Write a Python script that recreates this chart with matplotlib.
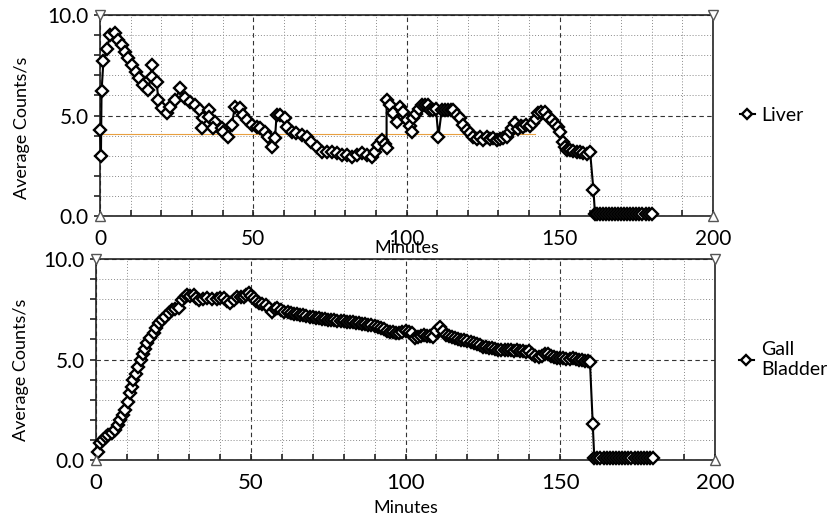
import matplotlib
matplotlib.use("Agg")
import matplotlib.pyplot as plt
from matplotlib.ticker import MultipleLocator

plt.rcParams['font.family'] = ['Lato', 'DejaVu Sans']

# Liver time-activity curve (minutes, counts/s)
liver_t = [0, 0.3, 0.5, 1.1, 2.2, 3.3, 4.9, 6.0, 7.1, 8.2, 9.2, 10.5, 11.6, 12.8,
           14.1, 15.8, 17.1, 17.1, 18.5, 19.0, 20.1, 21.7, 22.8, 24.5, 26.1, 27.7,
           29.4, 31.0, 32.6, 33.7, 33.2, 35.7, 35.5, 37.5, 36.9, 39.7, 40.0, 41.9,
           43.0, 44.0, 45.7, 46.8, 47.9, 49.5, 51.1, 52.2, 53.8, 54.9, 56.0, 57.1,
           57.6, 58.7, 60.4, 60.9, 62.5, 64.1, 65.8, 67.4, 69.0, 70.7, 72.3, 73.9,
           75.6, 77.2, 78.8, 80.5, 82.1, 83.7, 85.4, 87.0, 88.6, 89.7, 90.8, 91.9,
           93.0, 93.5, 93.5, 94.5, 95.7, 96.8, 97.9, 99.0, 100.0, 101.0, 101.7,
           102.2, 103.0, 104.0, 105.0, 106.0, 107.1, 107.8, 108.7, 109.6, 110.4,
           111.5, 112.6, 113.7, 114.5, 115.3, 116.4, 117.5, 118.5, 119.6, 120.7,
           121.8, 122.9, 124.0, 125.1, 126.2, 127.3, 128.3, 129.4, 130.5, 131.6,
           132.7, 133.8, 134.5, 135.4, 136.3, 137.2, 138.1, 139.0, 140.3, 141.4,
           142.2, 143.0, 144.0, 145.2, 146.3, 147.4, 148.5, 149.3, 150.1, 150.9,
           151.7, 152.5, 153.3, 154.4, 155.5, 156.6, 157.7, 158.8, 159.9, 161.0,
           161.5, 162, 163, 164, 165, 166, 167, 168, 169, 170, 171, 172, 173, 174,
           175, 176, 177, 178, 179, 180]
liver_v = [4.3, 3.0, 6.2, 7.7, 8.3, 9.0, 9.1, 8.76, 8.5, 8.17, 7.84, 7.51, 7.18, 6.85,
           6.52, 6.27, 7.51, 6.9, 6.68, 5.77, 5.36, 5.11, 5.44, 5.77, 6.35, 5.86,
           5.69, 5.52, 5.27, 4.86, 4.36, 5.27, 4.94, 4.69, 4.36, 4.36, 4.2, 3.95,
           4.53, 5.44, 5.36, 5.03, 4.78, 4.53, 4.44, 4.36, 4.2, 3.95, 3.45, 3.86,
           5.03, 5.03, 4.86, 4.44, 4.2, 4.11, 4.03, 3.95, 3.7, 3.45, 3.2, 3.2,
           3.2, 3.12, 3.03, 3.03, 2.95, 3.03, 3.12, 3.03, 2.95, 3.2, 3.53, 3.78,
           3.61, 3.37, 5.77, 5.5, 5.11, 4.69, 5.44, 5.2, 4.78, 4.5, 4.2,
           4.86, 5.1, 5.35, 5.52, 5.5, 5.52, 5.27, 5.3, 5.35, 3.95,
           5.27, 5.3, 5.27, 5.3, 5.27, 5.05, 4.86, 4.53, 4.3, 4.11,
           3.95, 3.85, 3.95, 3.8, 3.95, 3.85, 3.9, 3.78, 3.85, 3.9,
           3.95, 4.2, 4.4, 4.61, 4.35, 4.5, 4.44, 4.55, 4.5, 4.61,
           4.85, 5.11, 5.2, 5.19, 4.95, 4.78, 4.6, 4.44, 4.2, 3.7,
           3.45, 3.3, 3.28, 3.25, 3.2, 3.2, 3.15, 3.1, 3.2, 1.29,
           0.1, 0.1, 0.1, 0.1, 0.1, 0.1, 0.1, 0.1, 0.1, 0.1, 0.1, 0.1, 0.1, 0.1,
           0.1, 0.1, 0.1, 0.1, 0.1, 0.1]

# Gall bladder time-activity curve
gall_t = [0.5, 1.3, 2.3, 3.2, 4.0, 5.0, 6.2, 7.0, 7.8, 8.6, 9.4, 10.2, 11.0, 11.6,
          12.1, 12.9, 13.7, 14.5, 15.3, 15.9, 16.4, 17.5, 18.6, 19.4, 20.2, 21.3,
          22.4, 23.5, 24.5, 25.6, 26.7, 27.8, 28.6, 29.4, 30.5, 31.6, 32.4, 33.2,
          34.5, 35.9, 37.5, 39.1, 40.2, 41.3, 42.4, 43.4, 44.5, 45.6, 46.7, 47.7,
          48.6, 49.4, 50.2, 51.0, 51.8, 52.6, 53.7, 54.8, 55.9, 57.0, 57.8, 58.6,
          59.7, 60.8, 61.9, 62.9,
          64, 65, 66, 67, 68, 69, 70, 71, 72, 73, 74, 75, 76, 77, 78, 79, 80, 81,
          82, 83, 84, 85, 86, 87, 88, 89, 90, 91, 92, 93, 94, 95, 96, 97, 98, 99,
          100, 101, 102, 103, 104, 105, 106, 107, 108, 109, 110, 111, 112, 113,
          114, 115, 116, 117, 118, 119, 120, 121, 122, 123, 124, 125, 126, 127,
          128, 129, 130, 131, 132, 133, 134, 135, 136, 137, 138, 139, 140, 141,
          142, 143, 144, 145, 146, 147, 148, 149, 150, 151, 152, 153, 154, 155,
          156, 157, 158, 159, 159.6, 160.5,
          161, 162, 163, 164, 165, 166, 167, 168, 169, 170, 171, 172, 173, 174,
          175, 176, 177, 178, 179, 180]
gall_v = [0.4, 0.86, 1.0, 1.15, 1.24, 1.35, 1.49, 1.75, 1.99, 2.25, 2.49, 2.9, 3.32, 3.65,
          3.98, 4.3, 4.64, 5.0, 5.3, 5.55, 5.8, 6.05, 6.3, 6.55, 6.8, 6.95,
          7.13, 7.3, 7.46, 7.5, 7.55, 7.96, 8.1, 8.2, 8.15, 8.2, 8.05, 7.96,
          8.0, 8.05, 8.0, 8.0, 8.05, 8.05, 7.9, 7.8, 7.95, 8.12, 8.1, 8.12,
          8.2, 8.29, 8.15, 8.05, 7.9, 7.8, 7.75, 7.71, 7.55, 7.38, 7.5, 7.55,
          7.45, 7.38, 7.35, 7.3,
          7.28, 7.25, 7.2, 7.2, 7.15, 7.12, 7.1, 7.05, 7.05, 7.0, 7.02, 6.98, 6.95, 6.95,
          6.92, 6.9, 6.9, 6.88, 6.88, 6.85, 6.82, 6.8, 6.78, 6.75, 6.72, 6.7, 6.66, 6.63,
          6.55, 6.5, 6.42, 6.38, 6.35, 6.3, 6.3, 6.35, 6.4, 6.38, 6.3, 6.05, 6.1, 6.15,
          6.2, 6.18, 6.15, 6.12, 6.4, 6.63, 6.4, 6.2, 6.15, 6.1, 6.05, 6.0, 5.98, 5.95,
          5.9, 5.85, 5.8, 5.78, 5.7, 5.65, 5.62, 5.6, 5.58, 5.55, 5.5, 5.48, 5.47, 5.47,
          5.46, 5.45, 5.47, 5.45, 5.42, 5.4, 5.45, 5.3, 5.2, 5.14, 5.2, 5.3, 5.28, 5.2,
          5.15, 5.1, 5.06, 5.06, 5.05, 5.05, 5.06, 5.05, 5.0, 4.98, 4.95, 4.92, 4.89, 1.82,
          0.1, 0.1, 0.1, 0.1, 0.1, 0.1, 0.1, 0.1, 0.1, 0.1, 0.1, 0.1, 0.1, 0.1,
          0.1, 0.1, 0.1, 0.1, 0.1, 0.1]

x_ticks = [0, 50, 100, 150, 200]
y_ticks = [0, 5, 10]
y_tick_labels = ['0.0', '5.0', '10.0']


def style_axis(ax, tick_size, xpad):
    ax.set_xlim(0, 200)
    ax.set_ylim(0, 10)
    ax.set_xticks(x_ticks)
    ax.set_yticks(y_ticks)
    ax.set_yticklabels(y_tick_labels)
    ax.xaxis.set_minor_locator(MultipleLocator(10))
    ax.yaxis.set_minor_locator(MultipleLocator(1))
    ax.grid(which='major', linestyle=(0, (4, 3)), color='#333333', linewidth=0.8)
    ax.grid(which='minor', linestyle=(0, (1, 2)), color='#8a8a8a', linewidth=0.7)
    ax.tick_params(axis='x', which='both', direction='in', length=4, width=1.2,
                   labelsize=tick_size, pad=xpad, color='#222222')
    ax.tick_params(axis='y', which='both', direction='out', length=4, width=1.2,
                   labelsize=15, pad=4, color='#222222')
    for sp in ax.spines.values():
        sp.set_color('#222222')
        sp.set_linewidth(1.2)
    ax.set_axisbelow(True)
    # corner triangles of the acquisition software
    for (cx, cy, m) in [(0, 1, 'v'), (1, 1, 'v'), (0, 0, '^'), (1, 0, '^')]:
        ax.plot(cx, cy, marker=m, markersize=7, markerfacecolor='white',
                markeredgecolor='#555555', markeredgewidth=1.0,
                transform=ax.transAxes, clip_on=False, zorder=5)


fig = plt.figure(figsize=(8.28, 5.17), dpi=100)
ax1 = fig.add_axes([0.1208, 0.582, 0.7403, 0.389])
ax2 = fig.add_axes([0.1160, 0.110, 0.7475, 0.389])

line_kw = dict(color='black', linewidth=1.5, marker='D', markersize=6.5,
               markerfacecolor='white', markeredgecolor='black', markeredgewidth=1.7)

# Liver
style_axis(ax1, 15, 9)
ax1.plot([0, 142], [4.1, 4.1], color='#e8a040', linewidth=0.8, zorder=1)
h1, = ax1.plot(liver_t, liver_v, clip_on=False, zorder=3, **line_kw)
ax1.set_xlabel('Minutes', fontsize=13)
ax1.xaxis.set_label_coords(0.5, -0.12)
ax1.set_ylabel('Average Counts/s', fontsize=13)
ax1.yaxis.set_label_coords(-0.115, 0.44)
ax1.legend([h1], ['Liver'], loc='center left', bbox_to_anchor=(1.015, 0.5),
           frameon=False, fontsize=14, handlelength=0.8, handletextpad=0.3,
           markerscale=0.85)

# Gall bladder
style_axis(ax2, 16, 9)
h2, = ax2.plot(gall_t, gall_v, clip_on=False, zorder=3, **line_kw)
ax2.set_xlabel('Minutes', fontsize=13)
ax2.xaxis.set_label_coords(0.5, -0.2)
ax2.set_ylabel('Average Counts/s', fontsize=13)
ax2.yaxis.set_label_coords(-0.108, 0.45)
ax2.legend([h2], ['Gall\nBladder'], loc='center left', bbox_to_anchor=(1.01, 0.5),
           frameon=False, fontsize=14, handlelength=0.8, handletextpad=0.35,
           markerscale=0.85, labelspacing=0.2)

fig.savefig('out.png', dpi=100)
